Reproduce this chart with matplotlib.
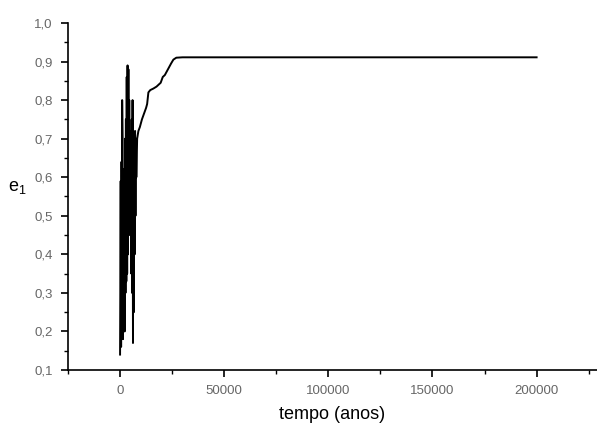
import numpy as np
from matplotlib import pyplot as plt
from matplotlib.ticker import MultipleLocator, FuncFormatter

# time (years) and eccentricity e1
tempo = [0, 300, 500, 700, 900, 1000, 1200, 1400, 1600, 1800, 2000, 2200,
         2400, 2600, 2800, 3000, 3200, 3400, 3600, 3800, 4000, 4200, 4400,
         4600, 4800, 5000, 5200, 5400, 5600, 5800, 6000, 6200, 6400, 6600,
         6800, 7000, 7200, 7400, 7600, 7800, 8200, 8800, 9500, 10500, 11500,
         12500, 13000, 13600, 14500, 16000, 17500, 18500, 19500, 20500,
         21500, 22500, 23500, 24500, 25600, 27000, 30000, 35000, 38000,
         200000]
e1 = [0.14, 0.59, 0.16, 0.64, 0.20, 0.80, 0.70, 0.18, 0.62, 0.22, 0.55,
      0.20, 0.70, 0.30, 0.75, 0.33, 0.86, 0.35, 0.89, 0.40, 0.88, 0.45,
      0.80, 0.50, 0.72, 0.45, 0.60, 0.35, 0.75, 0.30, 0.80, 0.17, 0.70,
      0.25, 0.65, 0.40, 0.72, 0.50, 0.70, 0.60, 0.70, 0.72, 0.73, 0.75,
      0.765, 0.78, 0.79, 0.82, 0.826, 0.83, 0.835, 0.84, 0.845, 0.86,
      0.865, 0.875, 0.885, 0.895, 0.905, 0.91, 0.911, 0.911, 0.911, 0.911]

fig = plt.figure(figsize=(5.97, 4.24), dpi=100)
ax = fig.add_axes([68/597, 54/424, 1 - 68/597, (370-23)/424])

ax.plot(tempo, e1, color='black', lw=1.4)

ax.set_xlim(-25000, 229000)
ax.set_ylim(0.1, 1.0)

ax.spines['top'].set_visible(False)
ax.spines['right'].set_visible(False)
for s in ['left', 'bottom']:
    ax.spines[s].set_linewidth(1.2)

ax.xaxis.set_major_locator(MultipleLocator(50000))
ax.xaxis.set_minor_locator(MultipleLocator(25000))
ax.yaxis.set_major_locator(MultipleLocator(0.1))
ax.yaxis.set_minor_locator(MultipleLocator(0.05))
ax.xaxis.set_major_formatter(FuncFormatter(lambda v, p: f"{v:.0f}"))
ax.yaxis.set_major_formatter(FuncFormatter(lambda v, p: f"{v:.1f}".replace('.', ',')))

ax.tick_params(which='major', direction='out', length=5, width=1.2,
               labelsize=9.5, labelcolor='#666666', pad=6)
ax.tick_params(which='minor', direction='out', length=3, width=1.0)
for lab in ax.get_xticklabels() + ax.get_yticklabels():
    lab.set_family('Liberation Sans')

ax.set_xlabel('tempo (anos)', fontsize=13, family='Liberation Sans', labelpad=6)
ax.set_ylabel(r'$\mathregular{e_1}$', fontsize=13, family='Liberation Sans',
              rotation=0, labelpad=12)

fig.savefig('out.png', dpi=100)
